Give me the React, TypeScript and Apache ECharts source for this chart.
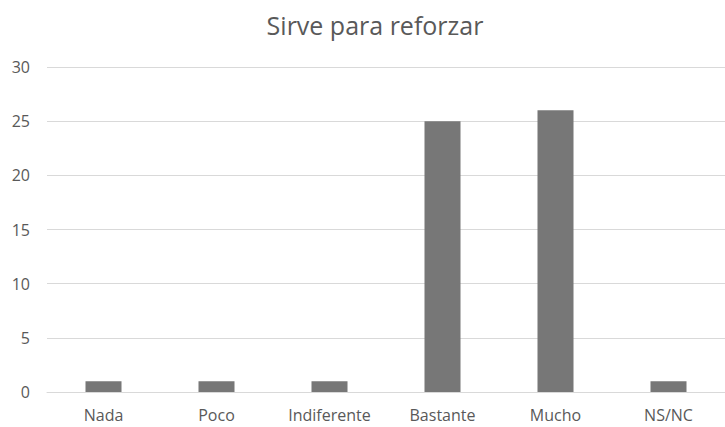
import React, { useEffect, useRef } from "react";
import * as echarts from "echarts";

const categories = ["Nada", "Poco", "Indiferente", "Bastante", "Mucho", "NS/NC"];
const values = [1, 1, 1, 25, 26, 1];
const yTicks = { min: 0, max: 30, interval: 5 };
const titleText = "Sirve para reforzar";

export default function App() {
  const ref = useRef<HTMLDivElement>(null);
  useEffect(() => {
    if (!ref.current) return;
    const chart = echarts.init(ref.current, undefined, { renderer: "svg" });
    chart.setOption({
      animation: false,
      backgroundColor: "#ffffff",
      title: {
        text: titleText,
        left: 370,
        top: 7,
        textAlign: "center",
        textStyle: { fontFamily: "Open Sans", fontSize: 25, fontWeight: "normal", color: "#595959" },
      },
      grid: { left: 47, top: 67, width: 684, height: 325 },
      xAxis: {
        type: "category",
        data: categories,
        axisLine: { lineStyle: { color: "#d9d9d9", width: 1 } },
        axisTick: { show: false },
        axisLabel: { color: "#595959", fontFamily: "Open Sans", fontSize: 16, margin: 15 },
      },
      yAxis: {
        type: "value",
        min: yTicks.min,
        max: yTicks.max,
        interval: yTicks.interval,
        axisLine: { show: false },
        axisTick: { show: false },
        splitLine: { lineStyle: { color: "#d9d9d9", width: 1 } },
        axisLabel: { color: "#595959", fontFamily: "Open Sans", fontSize: 16, margin: 17 },
      },
      series: [
        {
          type: "bar",
          data: values,
          barWidth: 36,
          itemStyle: { color: "#777777" },
        },
      ],
    });
    return () => chart.dispose();
  }, []);
  return <div ref={ref} style={{ width: 725, height: 427, position: "absolute", left: 0, top: 0 }} />;
}
